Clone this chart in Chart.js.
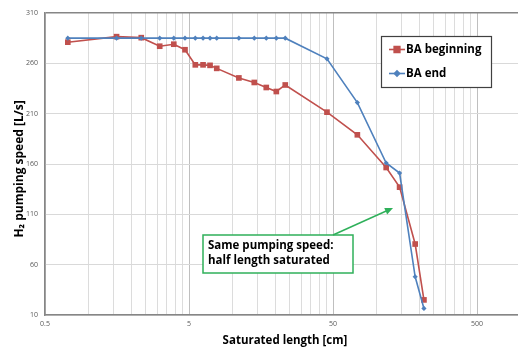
<!DOCTYPE html>
<html><head><meta charset="utf-8">
<script src="https://cdn.jsdelivr.net/npm/chart.js@4"></script>
<style>html,body{margin:0;padding:0;background:#fff;}canvas{display:block;}</style>
</head><body>
<canvas id="c" width="518" height="349"></canvas>
<script>
// Data
const satLength = [0.72, 1.57, 2.33, 3.13, 3.92, 4.69, 5.53, 6.26, 7.0, 7.79, 11.1, 14.2, 17.2, 20.2, 23.3, 45.4, 73.8, 117, 145, 186, 214];
const baBeginning = [281, 286.5, 285.5, 277, 279, 273.5, 258.5, 258.5, 258, 255, 245.5, 241, 236, 232, 238.5, 211.5, 189, 156.5, 137, 80.5, 25];
const baEnd = [285, 285, 285, 285, 285, 285, 285, 285, 285, 285, 285, 285, 285, 285, 285, 264.5, 221, 161, 151, 48, 16.5];
const seriesNames = ['BA beginning', 'BA end'];
const xLabelValues = [0.5, 5, 50, 500];
const xTickLabels = ['0.5', '5', '50', '500'];
const yTickValues = [10, 60, 110, 160, 210, 260, 310];
const xTitle = 'Saturated length [cm]';
const yTitle = 'H\u2082 pumping speed [L/s]';
const noteLines = ['Same pumping speed:', 'half length saturated'];

const xGridValues = [];
xLabelValues.forEach(d => { for (let k = 1; k <= 10; k++) { const v = +(d * k).toPrecision(6); if (!xGridValues.includes(v) && v <= 500) xGridValues.push(v); } });

const RED = '#c0504d', BLUE = '#4f81bd';
const FONT = "'Open Sans', 'DejaVu Sans', sans-serif";

const overlay = {
  id: 'overlay',
  afterDraw(chart) {
    const ctx = chart.ctx;
    ctx.save();
    // axis titles
    ctx.fillStyle = '#000';
    ctx.textAlign = 'center';
    ctx.textBaseline = 'middle';
    ctx.font = "bold 11.5px " + FONT;
    ctx.fillText(xTitle, 285, 341);
    ctx.save();
    ctx.translate(20, 169);
    ctx.rotate(-Math.PI / 2);
    ctx.font = "bold 12px " + FONT;
    ctx.fillText(yTitle, 0, 0);
    ctx.restore();
    ctx.textAlign = 'left';
    // legend
    const lx = 381, ly = 36, lw = 110, lh = 51;
    ctx.fillStyle = '#fff';
    ctx.fillRect(lx, ly, lw, lh);
    ctx.strokeStyle = '#404040';
    ctx.lineWidth = 1.2;
    ctx.strokeRect(lx + 0.5, ly + 0.5, lw, lh);
    const rows = [
      {y: 49.5, color: RED, style: 'rect', r: 4, name: seriesNames[0]},
      {y: 73.5, color: BLUE, style: 'rectRot', r: 2.6, name: seriesNames[1]}
    ];
    rows.forEach(row => {
      ctx.strokeStyle = row.color; ctx.lineWidth = 1.6;
      ctx.beginPath(); ctx.moveTo(389, row.y); ctx.lineTo(405, row.y); ctx.stroke();
      ctx.fillStyle = row.color;
      Chart.helpers.drawPoint(ctx, {pointStyle: row.style, radius: row.r, borderWidth: 1}, 397, row.y);
      ctx.fillStyle = '#000';
      ctx.font = "bold 11.5px " + FONT;
      ctx.textBaseline = 'middle';
      ctx.fillText(row.name, 406, row.y + 0.5);
    });
    // annotation box
    const bx = 203, by = 235, bw = 150, bh = 38;
    ctx.fillStyle = '#fff';
    ctx.fillRect(bx, by, bw, bh);
    ctx.strokeStyle = '#2fb05a';
    ctx.lineWidth = 1.5;
    ctx.strokeRect(bx, by, bw, bh);
    ctx.fillStyle = '#000';
    ctx.font = "bold 11.5px " + FONT;
    ctx.textBaseline = 'alphabetic';
    ctx.fillText(noteLines[0], 208, 249);
    ctx.fillText(noteLines[1], 208, 264);
    // arrow
    const x1 = 333, y1 = 235, x2 = 393, y2 = 208;
    ctx.strokeStyle = '#2fb05a'; ctx.fillStyle = '#2fb05a'; ctx.lineWidth = 1.5;
    ctx.beginPath(); ctx.moveTo(x1, y1); ctx.lineTo(x2 - 4, y2 + 1.8); ctx.stroke();
    const a = Math.atan2(y2 - y1, x2 - x1);
    ctx.beginPath();
    ctx.moveTo(x2, y2);
    ctx.lineTo(x2 - 8 * Math.cos(a) + 3.5 * Math.sin(a), y2 - 8 * Math.sin(a) - 3.5 * Math.cos(a));
    ctx.lineTo(x2 - 8 * Math.cos(a) - 3.5 * Math.sin(a), y2 - 8 * Math.sin(a) + 3.5 * Math.cos(a));
    ctx.closePath(); ctx.fill();
    ctx.restore();
  }
};

new Chart(document.getElementById('c'), {
  type: 'scatter',
  data: {
    datasets: [
      {label: seriesNames[0], data: satLength.map((x, i) => ({x, y: baBeginning[i]})), showLine: true,
       borderColor: RED, backgroundColor: RED, borderWidth: 1.6, pointStyle: 'rect', pointRadius: 4, pointBorderWidth: 0, order: 1},
      {label: seriesNames[1], data: satLength.map((x, i) => ({x, y: baEnd[i]})), showLine: true,
       borderColor: BLUE, backgroundColor: BLUE, borderWidth: 1.6, pointStyle: 'rectRot', pointRadius: 2.6, pointBorderWidth: 0, order: 0}
    ]
  },
  options: {
    responsive: false, animation: false,
    layout: {autoPadding: false, padding: {left: 0, right: 0, top: 13, bottom: 0}},
    plugins: {legend: {display: false}, tooltip: {enabled: false}},
    scales: {
      x: {
        type: 'logarithmic', min: 0.5, max: 963,
        afterBuildTicks: s => { s.ticks = xGridValues.map(v => ({value: v, major: xLabelValues.includes(v)})); },
        afterFit: s => { s.height = 34; },
        ticks: {
          autoSkip: false, maxRotation: 0, padding: 5, color: '#595959',
          font: {size: 7, family: FONT},
          callback: (v) => { const i = xLabelValues.indexOf(v); return i >= 0 ? xTickLabels[i] : ''; }
        },
        grid: {drawTicks: false, color: c => (c.tick && xLabelValues.includes(c.tick.value)) ? '#bfbfbf' : '#dcdcdc', lineWidth: 1},
        border: {color: '#868686', width: 1.5},
        title: {display: false}
      },
      y: {
        min: 10, max: 310,
        afterBuildTicks: s => { s.ticks = yTickValues.map(v => ({value: v})); },
        afterFit: s => { s.width = 45; },
        ticks: {padding: 7, color: '#595959', font: {size: 7, family: FONT}},
        grid: {drawTicks: false, color: c => (c.tick && c.tick.value === 310) ? '#868686' : '#d9d9d9',
               lineWidth: c => (c.tick && c.tick.value === 310) ? 1.5 : 1},
        border: {color: '#868686', width: 1.5},
        title: {display: false}
      }
    }
  },
  plugins: [overlay]
});
</script>
</body></html>
